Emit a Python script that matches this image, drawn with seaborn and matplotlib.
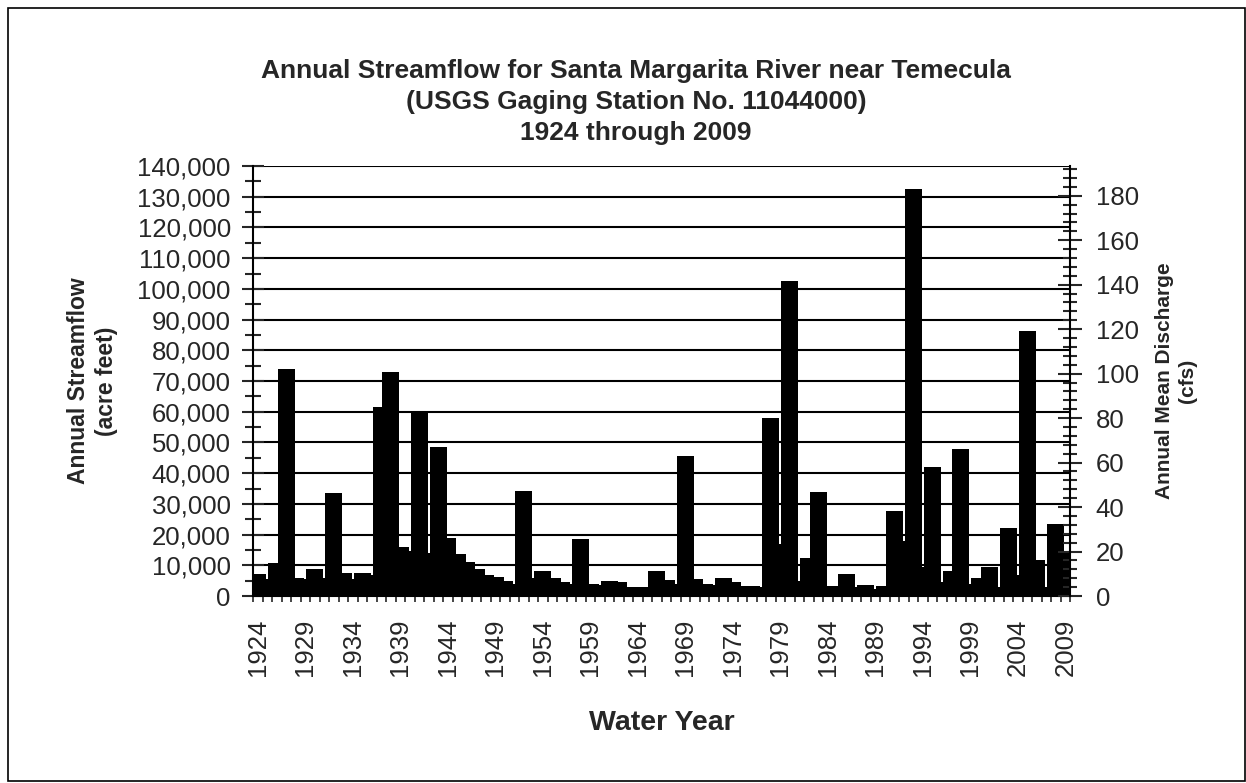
import numpy as np
import pandas as pd
import seaborn as sns
import matplotlib.pyplot as plt
from matplotlib.ticker import MultipleLocator, FuncFormatter
from matplotlib.patches import Rectangle

# water years 1924-2009, annual streamflow in acre-feet
years = list(range(1924, 2010))
acre_feet = [
    7300, 5500, 10700, 74000, 6000, 5500, 8900, 6000, 33400, 7500,      # 1924-1933
    5500, 7500, 7000, 61500, 73000, 16000, 14700, 60100, 14000, 48500,  # 1934-1943
    19000, 13800, 11200, 8700, 6900, 6200, 4900, 4000, 34300, 6000,     # 1944-1953
    8000, 5700, 4600, 4000, 18500, 4000, 3600, 4900, 4700, 2900,        # 1954-1963
    2800, 3000, 8200, 5100, 4000, 45700, 5400, 3800, 3500, 6000,        # 1964-1973
    4700, 3300, 3300, 3000, 58000, 17000, 102600, 5000, 12500, 33800,   # 1974-1983
    3300, 3300, 7300, 3000, 3600, 2200, 3400, 27800, 18000, 132600,     # 1984-1993
    9500, 41900, 4700, 8000, 47900, 3800, 5800, 9300, 3000, 22000,      # 1994-2003
    7000, 86300, 11700, 3000, 23400, 14000,                             # 2004-2009
]
label_years = years[::5]
af_per_cfs = 723.97  # acre-feet in one cfs-year

df = pd.DataFrame({'year': [str(y) for y in years], 'flow': acre_feet})

sns.set_style('white')
plt.rcParams['font.family'] = ['Liberation Sans', 'DejaVu Sans']

W, H = 1246, 783
fig = plt.figure(figsize=(W / 100, H / 100), dpi=100)
ax = fig.add_axes([253 / W, 1 - 596 / H, (1070 - 253) / W, (596 - 166) / H])

sns.barplot(data=df, x='year', y='flow', color='black', saturation=1,
            width=1.76, errorbar=None, linewidth=0, ax=ax)

ax.set_xlim(-0.5, len(years) - 0.5)
ax.set_ylim(0, 140000)
ax.yaxis.set_major_locator(MultipleLocator(10000))
ax.yaxis.set_minor_locator(MultipleLocator(5000))
ax.yaxis.set_major_formatter(FuncFormatter(lambda v, p: f'{v:,.0f}'))
ax.grid(True, axis='y', color='black', lw=1.5)
ax.set_axisbelow(True)

# category boundary ticks, labels every 5 years
ax.set_xticks(np.arange(-0.5, len(years), 1))
ax.set_xticklabels([])
ax.set_xticks([years.index(y) for y in label_years], minor=True)
ax.set_xticklabels([str(y) for y in label_years], minor=True, rotation=90)
ax.tick_params(axis='x', which='major', direction='out', length=4, width=1.2, bottom=True)
ax.tick_params(axis='x', which='minor', length=0, pad=16, labelsize=18.5)
ax.tick_params(axis='y', which='major', direction='inout', length=16, width=1.5,
               left=True, labelsize=18.5, pad=8)
ax.tick_params(axis='y', which='minor', direction='inout', length=11, width=1.5, left=True)

for s in ['top', 'right']:
    ax.spines[s].set_visible(False)
for s in ['left', 'bottom']:
    ax.spines[s].set_linewidth(1.5)
    ax.spines[s].set_color('black')

ax.set_xlabel('Water Year', fontsize=20.5, fontweight='bold', labelpad=25)
ax.set_ylabel('Annual Streamflow\n(acre feet)', fontsize=16.5, fontweight='bold',
              labelpad=14, linespacing=1.3)

ax2 = ax.twinx()
ax2.set_ylim(0, 140000 / af_per_cfs)
ax2.yaxis.set_major_locator(MultipleLocator(20))
ax2.yaxis.set_minor_locator(MultipleLocator(4))
ax2.tick_params(axis='y', which='major', direction='inout', length=17, width=1.5,
                right=True, labelsize=18.5, pad=10)
ax2.tick_params(axis='y', which='minor', direction='inout', length=10, width=1.5, right=True)
for s in ['top', 'left', 'bottom']:
    ax2.spines[s].set_visible(False)
ax2.spines['right'].set_linewidth(1.5)
ax2.spines['right'].set_color('black')
ax2.set_ylabel('Annual Mean Discharge\n(cfs)', fontsize=15, fontweight='bold',
               labelpad=12, linespacing=1.25)

fig.text(636 / W, 1 - 102 / H,
         'Annual Streamflow for Santa Margarita River near Temecula\n'
         '(USGS Gaging Station No. 11044000)\n1924 through 2009',
         ha='center', va='center', fontsize=19, fontweight='bold', linespacing=1.38)

fig.patches.append(Rectangle((8 / W, 1 - 781 / H), (1245 - 8) / W, (781 - 8) / H,
                             transform=fig.transFigure, fill=False, ec='black', lw=1.2))

fig.savefig('out.png', dpi=100)
